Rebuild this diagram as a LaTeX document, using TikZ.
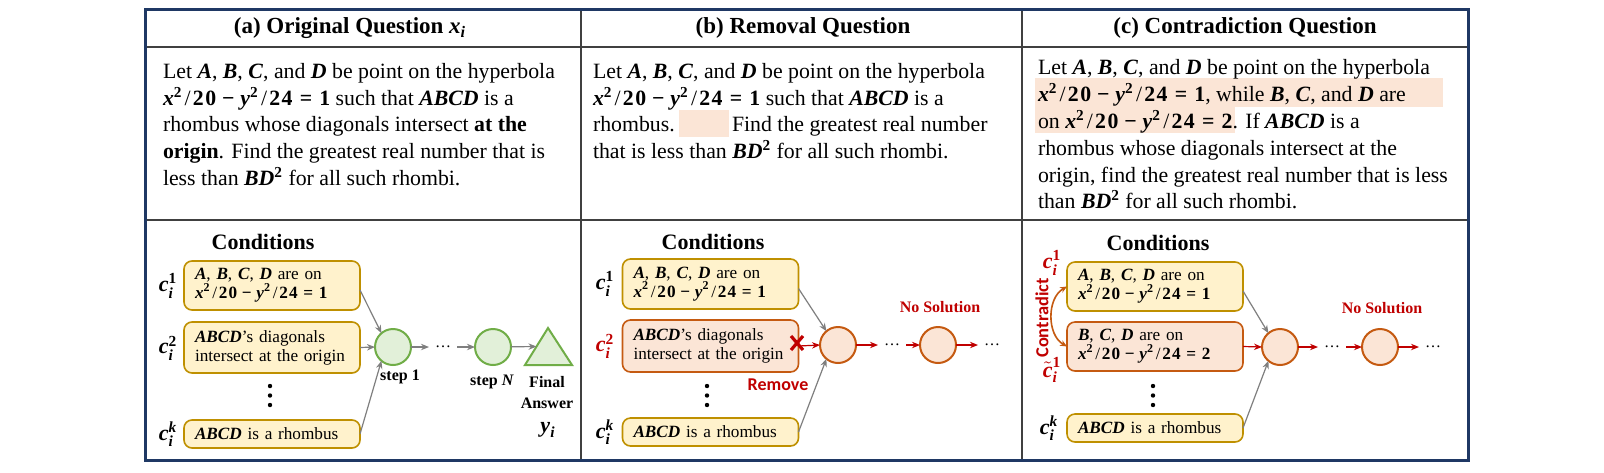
\documentclass[tikz,border=0pt]{standalone}
\usepackage{fontspec}
\usepackage{amsmath}
\setmainfont{Liberation Serif}
\newfontfamily\carlito{Carlito}
\usetikzlibrary{arrows.meta}
\pgfdeclarelayer{bg}
\pgfsetlayers{bg,main}
\definecolor{navy}{HTML}{1F3864}
\definecolor{gridgray}{HTML}{404040}
\definecolor{condfill}{HTML}{FFF2CC}
\definecolor{gold}{HTML}{BF9000}
\definecolor{peach}{HTML}{FBE5D6}
\definecolor{burnt}{HTML}{C55A11}
\definecolor{greenfill}{HTML}{E2F0D9}
\definecolor{greenline}{HTML}{70AD47}
\definecolor{darkred}{HTML}{C00000}
\definecolor{arrgray}{HTML}{7F7F7F}
\newcommand\mb[1]{\textbf{\textit{#1}}}
\newcommand\sq{\textsuperscript{\textbf{2}}}
\newcommand\hyp[1]{\mb{x}\sq\kern.1em/\kern.1em\textbf{2\kern.07em0}\hspace{.27em}\textbf{−}\hspace{.27em}\mb{y}\sq\kern.1em/\kern.1em\textbf{2\kern.07em4}\hspace{.33em}\textbf{=}\hspace{.33em}\textbf{#1}}
\newcommand\cl[1]{$\text{\mb{c}}^{\text{#1}}_{\text{\mb{i}}}$}
\newcommand\clt[1]{$\tilde{\text{\mb{c}}}^{\text{#1}}_{\text{\mb{i}}}$}
\begin{document}
\begin{tikzpicture}[x=0.5pt,y=-0.5pt,
  every node/.style={inner sep=0pt, outer sep=0pt},
  body/.style={anchor=base west, font=\fontsize{10.9}{13}\selectfont},
  title/.style={font=\fontsize{11.5}{13}\selectfont\bfseries},
  condhead/.style={font=\fontsize{11}{13}\selectfont\bfseries},
  cond/.style={draw=gold, fill=condfill, line width=0.8pt, rounded corners=4pt,
    text width=77pt, align=left, inner xsep=5.5pt, font=\fontsize{8.6}{9.6}\selectfont},
  condred/.style={cond, draw=burnt, fill=peach},
  clab/.style={font=\fontsize{11}{13}\selectfont},
  lab/.style={font=\fontsize{8}{10}\selectfont\bfseries},
  stepg/.style={circle, draw=greenline, fill=greenfill, line width=1pt, minimum size=18pt},
  stepr/.style={circle, draw=burnt, fill=peach, line width=1pt, minimum size=18pt},
  dotsn/.style={inner xsep=3pt, font=\fontsize{8}{10}\selectfont},
  garr/.style={draw=arrgray, line width=0.6pt, -{Stealth[length=4pt,width=3.2pt]}},
  rarr/.style={draw=darkred, line width=0.6pt, -{Stealth[length=4pt,width=3.2pt]}},
  nosol/.style={font=\fontsize{8}{10}\selectfont\bfseries, text=darkred},
]
\begin{pgfonlayer}{bg}
\fill[white] (0,0) rectangle (1604,472);
\end{pgfonlayer}
\useasboundingbox (0,0) rectangle (1604,472);

% highlights (fixed ones)
\fill[peach] (1035,78) rectangle (1443,107);
\fill[peach] (679,110) rectangle (729,137);

% grid
\draw[gridgray, line width=1.2pt] (145,47) -- (1468,47);
\draw[gridgray, line width=1.2pt] (145,220) -- (1468,220);
\draw[gridgray, line width=1.2pt] (581,9) -- (581,460);
\draw[gridgray, line width=1.2pt] (1022,9) -- (1022,460);
\draw[navy, line width=1.5pt] (145,9) rectangle (1468,460);

% titles
\node[title] (ta) at (350,28) {(a) Original Question $\text{\mb{x}}_{\text{\mb{i}}}$};
\node[title] (tb) at (803,28) {(b) Removal Question};
\node[title] (tc) at (1245,28) {(c) Contradiction Question};

% panel a text
\node[body] (a_l1) at (163,78) {Let \mb{A}, \mb{B}, \mb{C}, and \mb{D} be point on the hyperbola};
\node[body] (a_l2) at (163,105) {\hyp{1} such that \mb{ABCD} is a};
\node[body] (a_l3) at (163,131.5) {rhombus whose diagonals intersect \textbf{at the}};
\node[body] (a_l4) at (163,158) {\textbf{origin}. Find the greatest real number that is};
\node[body] (a_l5) at (163,185) {less than \mb{BD}\sq{} for all such rhombi.};

% panel b text
\node[body] (b_l1) at (593,78) {Let \mb{A}, \mb{B}, \mb{C}, and \mb{D} be point on the hyperbola};
\node[body] (b_l2) at (593,105) {\hyp{1} such that \mb{ABCD} is a};
\node[body] (b_l3) at (593,131.5) {rhombus.};
\node[body] (b_l3b) at (732,131.5) {Find the greatest real number};
\node[body] (b_l4) at (593,158) {that is less than \mb{BD}\sq{} for all such rhombi.};

% panel c text
\node[body] (c_l1) at (1038,74) {Let \mb{A}, \mb{B}, \mb{C}, and \mb{D} be point on the hyperbola};
\node[body] (c_l2) at (1038,101) {\hyp{1}, while \mb{B}, \mb{C}, and \mb{D} are};
\node[body] (c_l3a) at (1038,128) {on \hyp{2}};
\node[body] (c_l3b) at (c_l3a.base east) {. If \mb{ABCD} is a};
\begin{pgfonlayer}{bg}
\fill[peach] (1035,107) rectangle ([xshift=1pt]c_l3a.east |- 0,133);
\end{pgfonlayer}
\node[body] (c_l4) at (1038,155) {rhombus whose diagonals intersect at the};
\node[body] (c_l5) at (1038,182) {origin, find the greatest real number that is less};
\node[body] (c_l6) at (1038,208) {than \mb{BD}\sq{} for all such rhombi.};

% ===== panel a bottom =====
\node[condhead] (a_h) at (263,242) {Conditions};
\node[cond, minimum height=24.5pt] (a1) at (272,285.5) {\mb{A}, \mb{B}, \mb{C}, \mb{D} are on\\\hyp{1}};
\node[cond, minimum height=25.5pt] (a2) at (272,347.5) {\mb{ABCD}’s diagonals\\intersect at the origin};
\node[cond, minimum height=14pt] (ak) at (272,434) {\mb{ABCD} is a rhombus};
\node[clab] (a_c1) at (168,286) {\cl{\textbf{1}}};
\node[clab] (a_c2) at (168,348) {\cl{\textbf{2}}};
\node[clab] (a_ck) at (168,434) {\cl{\mb{k}}};
\foreach \yy in {386,395.5,405} \fill (270,\yy) circle (1.1pt);
\node[stepg] (a_s1) at (393,347) {};
\node[dotsn] (a_d) at (443,347) {…};
\node[stepg] (a_sN) at (493,347) {};
\draw[greenline, fill=greenfill, line width=1pt] (548,328) -- (572,365) -- (525,365) -- cycle;
\coordinate (a_fin) at (536.5,346.5);
\node[lab] (a_st1) at (400,377) {step 1};
\node[lab] (a_stN) at (492,382) {step \textit{N}};
\node[lab] (a_f1) at (547,382) {Final};
\node[lab] (a_f2) at (547,403) {Answer};
\node[clab] (a_y) at (548,430) {$\text{\mb{y}}_{\text{\mb{i}}}$};
\draw[garr] ([yshift=-2.25pt]a1.east) -- (a_s1.130);
\draw[garr] (a2.east) -- (a_s1.west);
\draw[garr] (ak.east) -- (a_s1.230);
\draw[garr] (a_s1) -- (a_d);
\draw[garr] (a_d) -- (a_sN);
\draw[garr] (a_sN) -- (a_fin);

% ===== panel b bottom =====
\node[condhead] (b_h) at (713,242) {Conditions};
\node[cond, minimum height=25pt] (b1) at (710.5,284) {\mb{A}, \mb{B}, \mb{C}, \mb{D} are on\\\hyp{1}};
\node[condred, minimum height=26pt] (b2) at (710.5,346) {\mb{ABCD}’s diagonals\\intersect at the origin};
\node[cond, minimum height=14pt] (bk) at (710.5,432) {\mb{ABCD} is a rhombus};
\node[clab] (b_c1) at (605,284) {\cl{\textbf{1}}};
\node[clab, text=darkred] (b_c2) at (605,346) {\cl{\textbf{2}}};
\node[clab] (b_ck) at (605,432) {\cl{\mb{k}}};
\foreach \yy in {386,395.5,405} \fill (707,\yy) circle (1.1pt);
\node[stepr] (b_s1) at (838,345) {};
\node[dotsn] (b_d1) at (892,345) {…};
\node[stepr] (b_s2) at (938,345) {};
\node[dotsn] (b_d2) at (992,345) {…};
\draw[garr] ([yshift=-2.25pt]b1.east) -- (b_s1.130);
\draw[garr] (bk.east) -- (b_s1.230);
\draw[rarr] (b2.east) -- (b_s1.west);
\draw[rarr] (b_s1) -- (b_d1);
\draw[rarr] (b_d1) -- (b_s2);
\draw[rarr] (b_s2) -- (b_d2);
\draw[darkred, line width=1.6pt] (791,336) -- (803,350) (803,336) -- (791,350);
\node[font=\fontsize{9}{11}\selectfont\carlito\bfseries, text=darkred] (b_rem) at (778,385) {Remove};
\node[nosol] (b_ns) at (940,307) {No Solution};

% ===== panel c bottom =====
\node[condhead] (c_h) at (1158,243) {Conditions};
\node[cond, minimum height=24.5pt] (c1) at (1155,286.5) {\mb{A}, \mb{B}, \mb{C}, \mb{D} are on\\\hyp{1}};
\node[condred, minimum height=24.5pt] (c2) at (1155,346.5) {\mb{B}, \mb{C}, \mb{D} are on\\\hyp{2}};
\node[cond, minimum height=14pt] (ck) at (1155,428) {\mb{ABCD} is a rhombus};
\node[clab, text=darkred] (c_c1) at (1052,263) {\cl{\textbf{1}}};
\node[clab, text=darkred] (c_c2) at (1052,370) {\clt{\textbf{1}}};
\node[clab] (c_ck) at (1049,428) {\cl{\mb{k}}};
\node[font=\fontsize{9.2}{11}\selectfont\carlito\bfseries, text=darkred, rotate=90] (c_con) at (1042,318) {Contradict};
\draw[burnt, line width=0.8pt, {Stealth[length=3.5pt,width=3pt]}-{Stealth[length=3.5pt,width=3pt]}] (c1.west) to[bend right=60] (c2.west);
\foreach \yy in {386,395.5,405} \fill (1153,\yy) circle (1.1pt);
\node[stepr] (c_s1) at (1280,347) {};
\node[dotsn] (c_d1) at (1332,347) {…};
\node[stepr] (c_s2) at (1380,347) {};
\node[dotsn] (c_d2) at (1433,347) {…};
\draw[garr] ([yshift=-2.25pt]c1.east) -- (c_s1.130);
\draw[garr] (ck.east) -- (c_s1.230);
\draw[rarr] (c2.east) -- (c_s1.west);
\draw[rarr] (c_s1) -- (c_d1);
\draw[rarr] (c_d1) -- (c_s2);
\draw[rarr] (c_s2) -- (c_d2);
\node[nosol] (c_ns) at (1382,308) {No Solution};
\end{tikzpicture}
\end{document}
